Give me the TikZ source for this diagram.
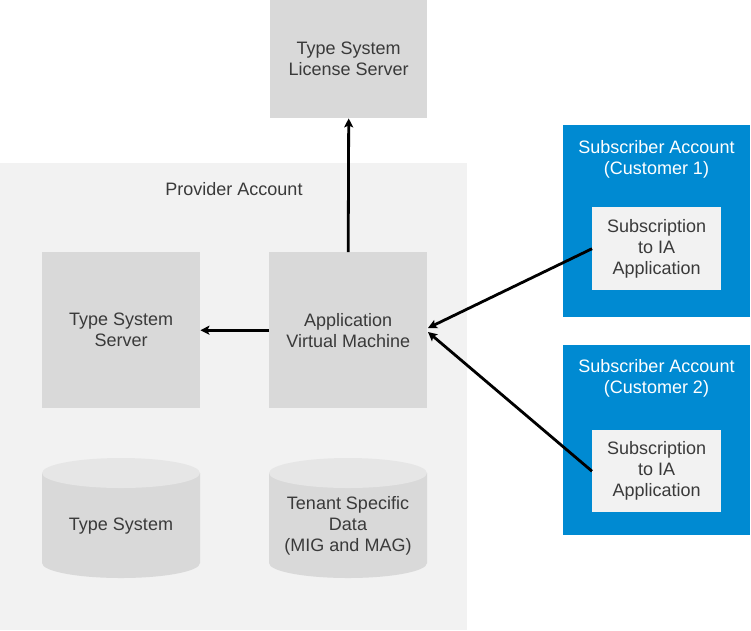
\documentclass[tikz,border=0pt]{standalone}
\usepackage{fontspec}
\setmainfont{Liberation Sans}
\usetikzlibrary{arrows.meta}
\definecolor{txt}{HTML}{3A3A3A}
\definecolor{boxg}{HTML}{D9D9D9}
\definecolor{provg}{HTML}{F2F2F2}
\definecolor{capg}{HTML}{E6E6E6}
\definecolor{sapblue}{HTML}{008AD2}
\tikzset{
  gbox/.style={fill=boxg, draw=none, text=txt, align=center, inner sep=0pt,
    minimum width=158pt, minimum height=156pt, font=\fontsize{18}{21}\selectfont},
  lbl/.style={text=txt, align=center, inner sep=0pt, font=\fontsize{18}{21}\selectfont},
  wlbl/.style={text=white, align=center, inner sep=0pt, font=\fontsize{18}{21}\selectfont},
  subbox/.style={fill=sapblue, draw=none, minimum width=187pt, minimum height=192pt, inner sep=0pt},
  inbox/.style={fill=provg, draw=none, text=txt, align=center, inner sep=0pt,
    minimum width=129pt, minimum height=83pt, font=\fontsize{18}{21}\selectfont},
  conn/.style={line width=2.8pt, -{Stealth[length=9pt,width=9pt,inset=2pt]}},
}
\begin{document}
\begin{tikzpicture}[x=1pt,y=-1pt]
\useasboundingbox (0,0) rectangle (751,630);
% provider account region
\node[fill=provg, draw=none, minimum width=467pt, minimum height=467pt, inner sep=0pt, anchor=north west] (prov) at (0,163) {};
\node[lbl] (provl) at (234,189) {Provider Account};
% license server
\node[gbox, minimum width=157pt, minimum height=118pt, anchor=north west] (lic) at (270,0) {Type System\\License Server};
% type system server
\node[gbox, anchor=north west] (tss) at (42,252) {Type System\\Server};
% application VM
\node[gbox, anchor=north west] (app) at (269,252) {Application\\Virtual Machine};
% cylinders
\fill[boxg] (42,473) -- (42,563) arc[start angle=180, end angle=360, x radius=79, y radius=-15] -- (200,473) -- cycle;
\fill[capg] (121,473) ellipse[x radius=79, y radius=15];
\node[lbl] (ts) at (121,526) {Type System};
\fill[boxg] (269,473) -- (269,563) arc[start angle=180, end angle=360, x radius=79, y radius=-15] -- (427,473) -- cycle;
\fill[capg] (348,473) ellipse[x radius=79, y radius=15];
\node[lbl] (tsd) at (348,526) {Tenant Specific\\Data\\(MIG and MAG)};
% subscriber 1
\node[subbox, anchor=north west] (s1) at (563,125) {};
\node[wlbl] (s1l) at (656.5,159.5) {Subscriber Account\\(Customer 1)};
\node[inbox, anchor=north west] (in1) at (592,207) {Subscription\\to IA\\Application};
% subscriber 2
\node[subbox, minimum height=190pt, anchor=north west] (s2) at (563,345) {};
\node[wlbl] (s2l) at (656.5,378.5) {Subscriber Account\\(Customer 2)};
\node[inbox, minimum height=82pt, anchor=north west] (in2) at (592,430) {Subscription\\to IA\\Application};
% connectors
\coordinate (a1) at (428,328);
\coordinate (a2) at (428,332);
\draw[conn] (app.north) -- (lic.south);
\draw[conn] (app.west) -- (tss.east);
\draw[conn] (in1.west) -- (a1);
\draw[conn] (in2.west) -- (a2);
\end{tikzpicture}
\end{document}
